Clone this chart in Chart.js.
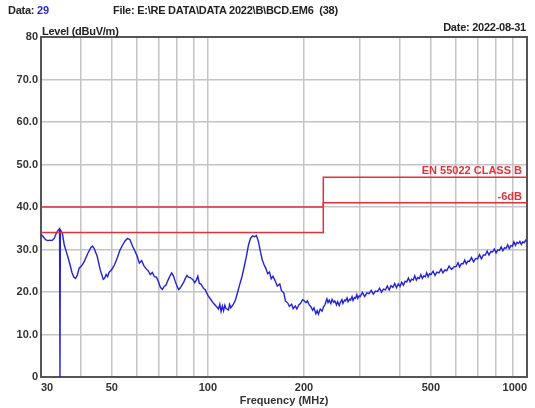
<!DOCTYPE html>
<html>
<head>
<meta charset="utf-8">
<script src="https://cdn.jsdelivr.net/npm/chart.js@4"></script>
<style>
  body { margin: 0; background: #fff; }
  #wrap { position: relative; width: 535px; height: 408px; }
  .hdr { position: absolute; font: bold 11px "Liberation Sans", Arial, sans-serif; letter-spacing: -0.25px; color: #222; white-space: pre; line-height: 12px; }
  .num { color: #2b2bd0; }
</style>
</head>
<body>
<div id="wrap">
  <canvas id="emc" width="535" height="408"></canvas>
  <div class="hdr" style="left:8px; top:4px;">Data: <span class="num">29</span></div>
  <div class="hdr" style="left:113px; top:4px;">File: E:\RE DATA\DATA 2022\B\BCD.EM6  (38)</div>
  <div class="hdr" style="left:42px; top:25px;">Level (dBuV/m)</div>
  <div class="hdr" style="right:9px; top:21px;">Date: 2022-08-31</div>
</div>
<script>
// measured trace: frequency (MHz) and level (dBuV/m)
const traceFreq = [
  30, 30.5, 31, 31.5, 32, 32.5, 33, 33.5, 34, 34.3, 34.4, 34.5, 35, 35.5, 36, 36.5, 37, 37.5, 38, 38.5,
  39, 39.5, 40, 40.5, 41, 42, 43, 43.5, 44, 45, 46, 47, 47.5, 48, 48.5, 49, 50, 51, 52, 53,
  54, 55, 56, 57, 58, 59, 60, 61, 62, 63, 64, 65, 66, 67, 68, 69, 70, 71, 72, 73,
  74, 75, 76, 77, 78, 79, 80, 81, 82, 83, 84, 85, 86, 87, 88, 89, 90, 91, 92, 93,
  94, 95, 96, 97, 98, 100, 102, 104, 106, 108, 109, 110, 111, 112, 113, 114, 116, 117, 118, 120,
  122, 124, 126, 128, 130, 132, 134, 136, 138, 140, 142, 144, 146, 148, 150, 152, 154, 156, 158, 160,
  163, 165, 168, 170, 173, 175, 178, 180, 183, 185, 188, 190, 193, 195, 198, 200, 203, 205, 208, 210,
  213, 215, 218, 220, 222, 225, 228, 230, 233, 236, 238, 240, 243, 245, 248, 250, 253, 255, 258, 260,
  263, 265, 268, 270, 273, 275, 278, 280, 283, 285, 288, 290, 293, 295, 298, 300, 305, 310, 315, 320,
  325, 330, 335, 340, 345, 350, 355, 360, 365, 370, 375, 380, 385, 390, 395, 400, 405, 410, 415, 420,
  425, 430, 435, 440, 445, 450, 455, 460, 465, 470, 475, 480, 485, 490, 495, 500, 508, 515, 522, 530,
  538, 545, 553, 560, 570, 580, 590, 600, 608, 615, 623, 630, 638, 645, 653, 660, 670, 680, 690, 700,
  710, 720, 730, 740, 750, 760, 770, 780, 790, 800, 810, 820, 830, 840, 850, 860, 870, 880, 890, 900,
  910, 920, 930, 940, 950, 960, 970, 980, 990, 1000
];
const traceLevel = [
  33.6, 33.0, 32.3, 32.1, 32.2, 32.1, 32.6, 33.8, 34.6, 34.9, 0, 34.6, 33.8, 31.0, 29.5, 28.0, 26.4, 24.6, 23.5, 23.2,
  24.0, 25.6, 26.0, 26.5, 27.2, 29.0, 30.5, 30.8, 30.3, 28.4, 25.2, 23.0, 23.3, 24.1, 23.6, 24.6, 25.3, 26.4, 28.0, 29.8,
  31.0, 32.0, 32.6, 32.3, 30.9, 29.7, 28.5, 26.8, 27.4, 26.2, 25.5, 25.0, 24.1, 24.6, 23.6, 23.5, 22.4, 21.1, 20.6, 21.3,
  21.7, 22.8, 23.7, 24.5, 23.8, 22.5, 21.4, 20.6, 21.0, 21.7, 22.3, 23.2, 23.9, 23.5, 23.4, 23.1, 22.8, 22.2, 22.8, 23.7,
  22.0, 21.9, 21.4, 20.8, 20.6, 19.2, 18.3, 17.4, 16.7, 16.0, 17.1, 15.4, 16.7, 15.6, 16.9, 16.1, 15.8, 17.1, 16.3, 17.0,
  18.1, 20.0, 21.9, 23.7, 26.0, 28.3, 31.0, 32.6, 33.2, 33.0, 33.3, 31.9, 29.6, 27.6, 26.4, 25.5, 24.3, 24.7, 23.1, 23.7,
  22.4, 21.4, 21.9, 20.3, 19.8, 17.9, 17.4, 16.6, 17.1, 16.1, 16.7, 16.0, 17.0, 17.3, 18.2, 18.0, 17.5, 17.9, 16.9, 16.6,
  15.7, 16.3, 14.9, 15.6, 14.8, 16.0, 15.5, 16.4, 17.1, 18.4, 17.5, 18.1, 17.3, 18.3, 17.6, 17.9, 17.0, 17.7, 16.8, 17.5,
  18.2, 17.3, 18.1, 17.9, 18.6, 17.7, 18.3, 18.1, 18.9, 18.0, 18.7, 18.5, 19.4, 18.5, 19.1, 18.9, 19.9, 18.9, 19.8, 19.6,
  20.4, 19.5, 20.2, 20.1, 20.9, 20.0, 20.7, 20.5, 21.4, 20.5, 21.5, 21.1, 22.0, 21.0, 21.9, 21.3, 22.3, 21.6, 22.5, 22.4,
  23.3, 22.4, 23.0, 22.8, 23.8, 22.8, 23.4, 23.2, 24.1, 23.2, 23.8, 23.6, 24.5, 23.6, 24.3, 24.1, 24.9, 23.9, 24.7, 24.5,
  25.4, 24.5, 25.2, 25.0, 26.1, 25.3, 25.9, 26.0, 26.9, 25.9, 26.7, 26.6, 27.5, 26.6, 27.3, 27.2, 28.1, 27.1, 27.9, 27.8,
  28.8, 27.8, 28.7, 28.7, 29.6, 28.7, 29.5, 29.4, 30.1, 29.2, 29.9, 29.8, 30.6, 29.7, 30.4, 30.3, 31.1, 30.2, 30.9, 30.8,
  31.8, 31.0, 31.7, 31.4, 31.9, 31.2, 31.8, 31.6, 32.2, 31.8
];

// EN 55022 class B limit and the -6 dB margin line, stepping at 230 MHz
const limitFreq = [30, 230, 230, 1000];
const limitLevel = [40, 40, 47, 47];
const marginLevel = [34, 34, 41, 41];
const limitNames = ['EN 55022 CLASS B', '-6dB'];

const gridFreqs = [30, 40, 50, 60, 70, 80, 90, 100, 200, 300, 400, 500, 600, 700, 800, 900, 1000];
const labelFreqs = [30, 50, 100, 200, 500, 1000];

const toPoints = (xs, ys) => xs.map((x, i) => ({ x: x, y: ys[i] }));

const fontFamily = '"Liberation Sans", Arial, sans-serif';
const red = '#e3313b';

// dark box round the plot area
const framePlugin = {
    id: 'frame',
    beforeDatasetsDraw(chart) {
        const { ctx, chartArea: a } = chart;
        ctx.save();
        ctx.strokeStyle = '#555';
        ctx.lineWidth = 2;
        ctx.strokeRect(a.left, a.top, a.right - a.left, a.bottom - a.top);
        ctx.restore();
    }
};

// names of the limit lines, right aligned just above each line
const limitLabelPlugin = {
    id: 'limitLabels',
    afterDatasetsDraw(chart) {
        const { ctx, chartArea: a, scales } = chart;
        const levels = [limitLevel[3], marginLevel[3]];
        ctx.save();
        ctx.font = 'bold 11px ' + fontFamily;
        ctx.fillStyle = red;
        ctx.textAlign = 'right';
        ctx.textBaseline = 'middle';
        limitNames.forEach((name, i) => {
            ctx.fillText(name, a.right - 5, scales.y.getPixelForValue(levels[i]) - 6);
        });
        ctx.restore();
    }
};

new Chart(document.getElementById('emc'), {
    type: 'line',
    data: {
        datasets: [{
            label: 'EN 55022 CLASS B',
            data: toPoints(limitFreq, limitLevel),
            borderColor: red,
            borderWidth: 1.5,
            pointRadius: 0,
            order: 0
        }, {
            label: '-6dB',
            data: toPoints(limitFreq, marginLevel),
            borderColor: red,
            borderWidth: 1.5,
            pointRadius: 0,
            order: 0
        }, {
            label: 'Level',
            data: toPoints(traceFreq, traceLevel),
            borderColor: '#2222d8',
            borderWidth: 1.4,
            pointRadius: 0,
            order: 1
        }]
    },
    options: {
        responsive: false,
        animation: false,
        layout: { padding: { top: 37, right: 8, left: 0, bottom: 0 } },
        plugins: {
            legend: { display: false },
            tooltip: { enabled: false }
        },
        scales: {
            x: {
                type: 'logarithmic',
                min: 30,
                max: 1000,
                afterBuildTicks: s => { s.ticks = gridFreqs.map(v => ({ value: v })); },
                afterFit: s => { s.height = 31; },
                grid: { color: '#c4c4c4', lineWidth: 1.5, drawTicks: false },
                border: { display: false },
                ticks: {
                    autoSkip: false,
                    maxRotation: 0,
                    align: 'inner',
                    padding: 4,
                    color: '#333',
                    font: { family: fontFamily, size: 11, weight: 'bold' },
                    callback: v => labelFreqs.includes(v) ? String(v) : ''
                },
                title: {
                    display: true,
                    text: 'Frequency (MHz)',
                    color: '#333',
                    padding: 0,
                    font: { family: fontFamily, size: 11, weight: 'bold' }
                }
            },
            y: {
                min: 0,
                max: 80,
                afterFit: s => { s.width = 41; },
                grid: { color: '#c4c4c4', lineWidth: 1.5, drawTicks: false },
                border: { display: false },
                ticks: {
                    stepSize: 10,
                    padding: 3,
                    color: '#333',
                    font: { family: fontFamily, size: 11, weight: 'bold' },
                    callback: v => (v === 0 || v === 80) ? String(v) : v.toFixed(1)
                }
            }
        }
    },
    plugins: [framePlugin, limitLabelPlugin]
});
</script>
</body>
</html>
